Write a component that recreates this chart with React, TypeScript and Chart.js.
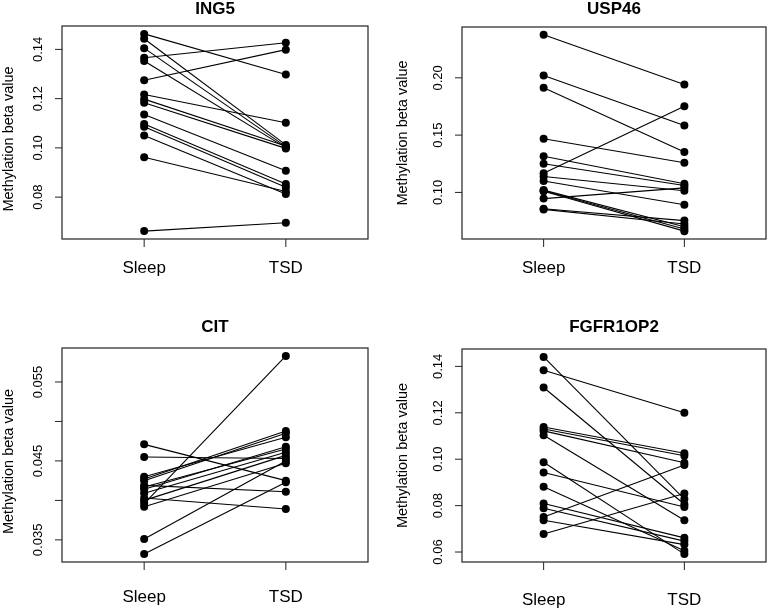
import React, { useEffect, useRef } from "react";
import { Chart, registerables } from "chart.js";

Chart.register(...registerables);

// ---- data ----
const xCategories = ["Sleep", "TSD"];
const yAxisTitle = "Methylation beta value";

const ing5Sleep = [0.1463, 0.1443, 0.1405, 0.1366, 0.1353, 0.1275, 0.1217, 0.1198, 0.1183, 0.1136, 0.1097, 0.1086, 0.1050, 0.0962, 0.0662];
const ing5Tsd = [0.1298, 0.1012, 0.1005, 0.1427, 0.1001, 0.1399, 0.1102, 0.1008, 0.0998, 0.0907, 0.0853, 0.0840, 0.0813, 0.0823, 0.0696];
const ing5Ticks = [0.08, 0.10, 0.12, 0.14];
const ing5TickLabels = ["0.08", "0.10", "0.12", "0.14"];

const usp46Sleep = [0.2375, 0.2020, 0.1913, 0.1468, 0.1316, 0.1250, 0.1168, 0.1139, 0.1099, 0.1020, 0.1015, 0.1010, 0.0946, 0.0858, 0.0852];
const usp46Tsd = [0.1942, 0.1584, 0.1352, 0.1259, 0.1076, 0.1060, 0.1752, 0.1015, 0.0893, 0.0700, 0.0680, 0.0662, 0.1040, 0.0754, 0.0725];
const usp46Ticks = [0.10, 0.15, 0.20];
const usp46TickLabels = ["0.10", "0.15", "0.20"];

const citSleep = [0.0471, 0.0455, 0.0430, 0.0427, 0.0425, 0.0419, 0.0417, 0.0414, 0.0409, 0.0403, 0.0400, 0.0396, 0.0392, 0.0351, 0.0332];
const citTsd = [0.0425, 0.0453, 0.0480, 0.0488, 0.0485, 0.0411, 0.0465, 0.0468, 0.0461, 0.0389, 0.0457, 0.0583, 0.0447, 0.0450, 0.0423];
const citTicks = [0.035, 0.040, 0.045, 0.050, 0.055];
const citTickLabels = ["0.035", "", "0.045", "", "0.055"];

const fgfrSleep = [0.1441, 0.1383, 0.1309, 0.1139, 0.1130, 0.1122, 0.1103, 0.0987, 0.0943, 0.0881, 0.0809, 0.0789, 0.0751, 0.0737, 0.0678];
const fgfrTsd = [0.0828, 0.1200, 0.0806, 0.1026, 0.1015, 0.0985, 0.0737, 0.0591, 0.0794, 0.0606, 0.0661, 0.0647, 0.0975, 0.0632, 0.0852];
const fgfrTicks = [0.06, 0.08, 0.10, 0.12, 0.14];
const fgfrTickLabels = ["0.06", "0.08", "0.10", "0.12", "0.14"];

// ---- layout (positions / styles) ----
const FONT = "'Liberation Sans', Arial, Helvetica, sans-serif";

type Panel = {
  title: string;
  sleep: number[];
  tsd: number[];
  ticks: number[];
  tickLabels: string[];
  left: number;
  top: number;
  width: number;
  height: number;
  pad: { left: number; top: number; right: number; bottom: number };
  titleY: number;
  yTitleX: number;
  yTitleShift: number;
  xLabelBaseline: number;
};

const panels: Panel[] = [
  {
    title: "ING5", sleep: ing5Sleep, tsd: ing5Tsd, ticks: ing5Ticks, tickLabels: ing5TickLabels,
    left: 0, top: 0, width: 385, height: 300,
    pad: { left: 62, top: 26, right: 17, bottom: 61 },
    titleY: 9.5, yTitleX: 9, yTitleShift: 6.5, xLabelBaseline: 273,
  },
  {
    title: "USP46", sleep: usp46Sleep, tsd: usp46Tsd, ticks: usp46Ticks, tickLabels: usp46TickLabels,
    left: 385, top: 0, width: 386, height: 300,
    pad: { left: 77, top: 27, right: 5, bottom: 61 },
    titleY: 9.5, yTitleX: 17.5, yTitleShift: 0, xLabelBaseline: 273,
  },
  {
    title: "CIT", sleep: citSleep, tsd: citTsd, ticks: citTicks, tickLabels: citTickLabels,
    left: 0, top: 300, width: 385, height: 309,
    pad: { left: 62, top: 48, right: 17, bottom: 47 },
    titleY: 27, yTitleX: 9, yTitleShift: 6.5, xLabelBaseline: 301.5,
  },
  {
    title: "FGFR1OP2", sleep: fgfrSleep, tsd: fgfrTsd, ticks: fgfrTicks, tickLabels: fgfrTickLabels,
    left: 385, top: 300, width: 386, height: 309,
    pad: { left: 77, top: 49, right: 5, bottom: 47 },
    titleY: 27, yTitleX: 17.5, yTitleShift: 0, xLabelBaseline: 305,
  },
];

function PairedPanel({ p }: { p: Panel }) {
  const ref = useRef<HTMLCanvasElement | null>(null);

  useEffect(() => {
    if (!ref.current) return;
    const all = [...p.sleep, ...p.tsd];
    const lo = Math.min(...all);
    const hi = Math.max(...all);
    const r = hi - lo;
    const yMin = lo - 0.04 * r;
    const yMax = hi + 0.04 * r;
    const xMin = 0.5 - 0.04 * 2;
    const xMax = 2.5 + 0.04 * 2;

    const datasets = p.sleep.map((s, i) => ({
      data: [
        { x: 1, y: s },
        { x: 2, y: p.tsd[i] },
      ],
      borderColor: "#000",
      borderWidth: 1.1,
      pointRadius: 4,
      pointBackgroundColor: "#000",
      pointBorderColor: "#000",
      pointBorderWidth: 0,
      pointHoverRadius: 4,
      fill: false,
      tension: 0,
      clip: false as any,
    }));

    const rAxes = {
      id: "rAxes",
      afterDraw(chart: any) {
        const ctx = chart.ctx as CanvasRenderingContext2D;
        const a = chart.chartArea;
        const xs = chart.scales.x;
        const ys = chart.scales.y;
        ctx.save();
        // box
        ctx.strokeStyle = "#222";
        ctx.lineWidth = 1.2;
        ctx.strokeRect(a.left, a.top, a.right - a.left, a.bottom - a.top);
        // y ticks + rotated labels
        ctx.lineWidth = 1;
        ctx.fillStyle = "#000";
        ctx.font = `13px ${FONT}`;
        ctx.textAlign = "center";
        ctx.textBaseline = "middle";
        p.ticks.forEach((t, i) => {
          const y = ys.getPixelForValue(t);
          ctx.beginPath();
          ctx.moveTo(a.left, y);
          ctx.lineTo(a.left - 7, y);
          ctx.stroke();
          const lab = p.tickLabels[i];
          if (lab) {
            ctx.save();
            ctx.translate(a.left - 24, y);
            ctx.rotate(-Math.PI / 2);
            ctx.fillText(lab, 0, 0);
            ctx.restore();
          }
        });
        // x ticks + labels
        ctx.font = `17px ${FONT}`;
        ctx.textBaseline = "alphabetic";
        xCategories.forEach((c, i) => {
          const x = xs.getPixelForValue(i + 1);
          ctx.beginPath();
          ctx.moveTo(x, a.bottom);
          ctx.lineTo(x, a.bottom + 8);
          ctx.stroke();
          ctx.fillText(c, x, p.xLabelBaseline);
        });
        // y title
        ctx.save();
        ctx.font = `14.5px ${FONT}`;
        ctx.textBaseline = "middle";
        ctx.translate(p.yTitleX, (a.top + a.bottom) / 2 + p.yTitleShift);
        ctx.rotate(-Math.PI / 2);
        ctx.fillText(yAxisTitle, 0, 0);
        ctx.restore();
        // title
        ctx.font = `bold 17px ${FONT}`;
        ctx.textBaseline = "middle";
        ctx.fillText(p.title, (a.left + a.right) / 2, p.titleY);
        ctx.restore();
      },
    };

    const chart = new Chart(ref.current, {
      type: "line",
      data: { datasets: datasets as any },
      options: {
        responsive: false,
        animation: false,
        events: [],
        layout: { padding: p.pad },
        plugins: { legend: { display: false }, tooltip: { enabled: false }, title: { display: false } },
        scales: {
          x: { type: "linear", min: xMin, max: xMax, display: false },
          y: { type: "linear", min: yMin, max: yMax, display: false },
        },
      },
      plugins: [rAxes],
    });
    return () => chart.destroy();
  }, [p]);

  return (
    <canvas
      ref={ref}
      width={p.width}
      height={p.height}
      style={{ position: "absolute", left: p.left, top: p.top, width: p.width, height: p.height }}
    />
  );
}

export default function App() {
  return (
    <div style={{ position: "absolute", left: 0, top: 0, width: 771, height: 609, background: "#fff", overflow: "hidden" }}>
      {panels.map((p) => (
        <PairedPanel key={p.title} p={p} />
      ))}
    </div>
  );
}
